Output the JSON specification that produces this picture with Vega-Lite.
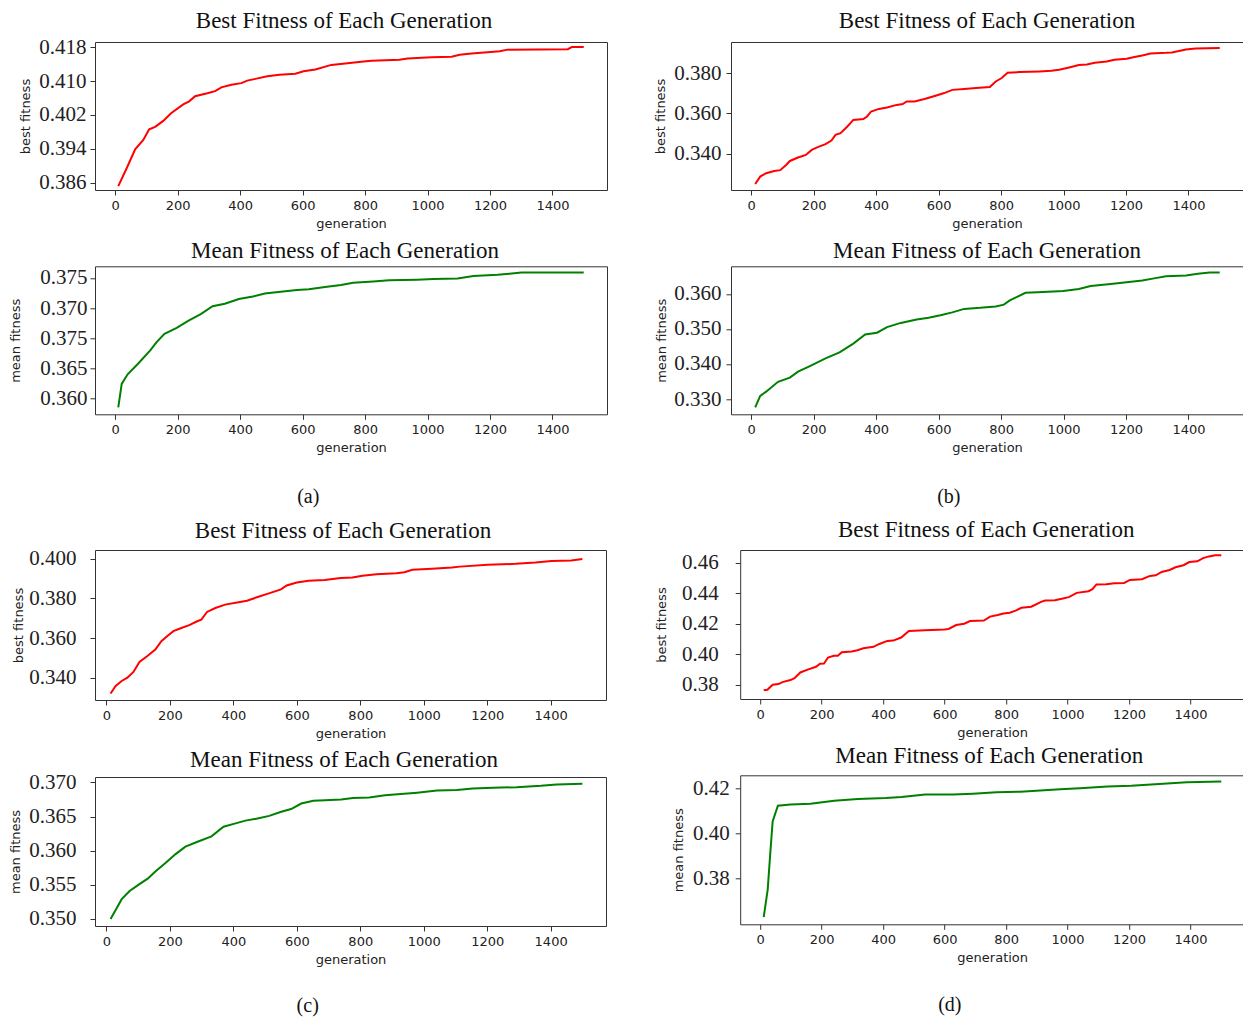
{
  "$schema": "https://vega.github.io/schema/vega-lite/v6.json",
  "background": "white",
  "padding": {"left": 8, "top": 9, "right": 0, "bottom": 0},
  "config": {
    "view": {"stroke": "#333", "strokeWidth": 1},
    "title": {"font": "Liberation Serif", "fontSize": 23, "fontWeight": "normal", "color": "#111", "anchor": "middle", "frame": "group", "baseline": "alphabetic"},
    "axis": {"grid": false, "domain": false, "tickColor": "#333", "tickSize": 5, "tickWidth": 1, "labelColor": "#222", "titleColor": "#222", "titleFont": "DejaVu Sans", "titleFontSize": 13, "titleFontWeight": "normal", "labelFlush": false, "labelOverlap": false},
    "axisX": {"labelFont": "DejaVu Sans", "labelFontSize": 13, "labelPadding": 4, "titlePadding": 5, "format": "d"},
    "axisY": {"labelFont": "Liberation Serif", "labelFontSize": 21, "titlePadding": 3}
  },
  "datasets": {
    "aBest": [
      {"gen": 10, "fitness": 0.3852}, {"gen": 38, "fitness": 0.3896}, {"gen": 64, "fitness": 0.3939}, {"gen": 90, "fitness": 0.3961}, {"gen": 109, "fitness": 0.3986}, {"gen": 128, "fitness": 0.3992}, {"gen": 154, "fitness": 0.4006}, {"gen": 179, "fitness": 0.4024}, {"gen": 218, "fitness": 0.4045}, {"gen": 237, "fitness": 0.4052}, {"gen": 256, "fitness": 0.4064}, {"gen": 295, "fitness": 0.4071}, {"gen": 320, "fitness": 0.4076}, {"gen": 340, "fitness": 0.4085}, {"gen": 372, "fitness": 0.4091}, {"gen": 404, "fitness": 0.4095}, {"gen": 423, "fitness": 0.4101}, {"gen": 449, "fitness": 0.4105}, {"gen": 487, "fitness": 0.4111}, {"gen": 526, "fitness": 0.4115}, {"gen": 577, "fitness": 0.4117}, {"gen": 603, "fitness": 0.4123}, {"gen": 641, "fitness": 0.4127}, {"gen": 692, "fitness": 0.4138}, {"gen": 744, "fitness": 0.4142}, {"gen": 795, "fitness": 0.4146}, {"gen": 821, "fitness": 0.4148}, {"gen": 910, "fitness": 0.415}, {"gen": 936, "fitness": 0.4153}, {"gen": 1013, "fitness": 0.4156}, {"gen": 1077, "fitness": 0.4157}, {"gen": 1103, "fitness": 0.4162}, {"gen": 1141, "fitness": 0.4165}, {"gen": 1192, "fitness": 0.4168}, {"gen": 1231, "fitness": 0.417}, {"gen": 1256, "fitness": 0.4174}, {"gen": 1449, "fitness": 0.4175}, {"gen": 1462, "fitness": 0.418}, {"gen": 1500, "fitness": 0.418}
    ],
    "aMean": [
      {"gen": 10, "fitness": 0.3585}, {"gen": 21, "fitness": 0.3624}, {"gen": 40, "fitness": 0.364}, {"gen": 74, "fitness": 0.3658}, {"gen": 113, "fitness": 0.368}, {"gen": 132, "fitness": 0.3693}, {"gen": 158, "fitness": 0.3707}, {"gen": 197, "fitness": 0.3717}, {"gen": 235, "fitness": 0.3729}, {"gen": 274, "fitness": 0.374}, {"gen": 312, "fitness": 0.3753}, {"gen": 351, "fitness": 0.3757}, {"gen": 396, "fitness": 0.3765}, {"gen": 441, "fitness": 0.3769}, {"gen": 479, "fitness": 0.3774}, {"gen": 530, "fitness": 0.3777}, {"gen": 582, "fitness": 0.378}, {"gen": 620, "fitness": 0.3781}, {"gen": 672, "fitness": 0.3785}, {"gen": 723, "fitness": 0.3788}, {"gen": 762, "fitness": 0.3792}, {"gen": 826, "fitness": 0.3794}, {"gen": 877, "fitness": 0.3796}, {"gen": 967, "fitness": 0.3797}, {"gen": 1019, "fitness": 0.3798}, {"gen": 1096, "fitness": 0.3799}, {"gen": 1147, "fitness": 0.3803}, {"gen": 1224, "fitness": 0.3805}, {"gen": 1262, "fitness": 0.3807}, {"gen": 1301, "fitness": 0.3809}, {"gen": 1500, "fitness": 0.3809}
    ],
    "bBest": [
      {"gen": 13, "fitness": 0.3248}, {"gen": 29, "fitness": 0.3285}, {"gen": 48, "fitness": 0.3302}, {"gen": 74, "fitness": 0.3313}, {"gen": 93, "fitness": 0.3317}, {"gen": 112, "fitness": 0.3343}, {"gen": 124, "fitness": 0.3363}, {"gen": 150, "fitness": 0.338}, {"gen": 175, "fitness": 0.3393}, {"gen": 194, "fitness": 0.3418}, {"gen": 213, "fitness": 0.3432}, {"gen": 238, "fitness": 0.3447}, {"gen": 257, "fitness": 0.3465}, {"gen": 270, "fitness": 0.3493}, {"gen": 286, "fitness": 0.3502}, {"gen": 308, "fitness": 0.3535}, {"gen": 327, "fitness": 0.3568}, {"gen": 359, "fitness": 0.3572}, {"gen": 371, "fitness": 0.3585}, {"gen": 384, "fitness": 0.361}, {"gen": 409, "fitness": 0.3623}, {"gen": 435, "fitness": 0.363}, {"gen": 466, "fitness": 0.3643}, {"gen": 485, "fitness": 0.3647}, {"gen": 498, "fitness": 0.366}, {"gen": 523, "fitness": 0.366}, {"gen": 555, "fitness": 0.3672}, {"gen": 593, "fitness": 0.369}, {"gen": 618, "fitness": 0.3702}, {"gen": 644, "fitness": 0.3718}, {"gen": 682, "fitness": 0.3722}, {"gen": 720, "fitness": 0.3727}, {"gen": 764, "fitness": 0.3732}, {"gen": 783, "fitness": 0.376}, {"gen": 802, "fitness": 0.3777}, {"gen": 821, "fitness": 0.3803}, {"gen": 859, "fitness": 0.3807}, {"gen": 923, "fitness": 0.381}, {"gen": 961, "fitness": 0.3813}, {"gen": 986, "fitness": 0.3818}, {"gen": 1018, "fitness": 0.383}, {"gen": 1049, "fitness": 0.3842}, {"gen": 1075, "fitness": 0.3845}, {"gen": 1100, "fitness": 0.3853}, {"gen": 1138, "fitness": 0.386}, {"gen": 1163, "fitness": 0.3868}, {"gen": 1202, "fitness": 0.3873}, {"gen": 1227, "fitness": 0.3882}, {"gen": 1252, "fitness": 0.389}, {"gen": 1278, "fitness": 0.39}, {"gen": 1328, "fitness": 0.3903}, {"gen": 1347, "fitness": 0.3905}, {"gen": 1392, "fitness": 0.392}, {"gen": 1423, "fitness": 0.3925}, {"gen": 1500, "fitness": 0.3927}
    ],
    "bMean": [
      {"gen": 13, "fitness": 0.3276}, {"gen": 29, "fitness": 0.3309}, {"gen": 48, "fitness": 0.3321}, {"gen": 86, "fitness": 0.3349}, {"gen": 124, "fitness": 0.3361}, {"gen": 150, "fitness": 0.3378}, {"gen": 188, "fitness": 0.3394}, {"gen": 238, "fitness": 0.3416}, {"gen": 283, "fitness": 0.3433}, {"gen": 327, "fitness": 0.3458}, {"gen": 365, "fitness": 0.3484}, {"gen": 403, "fitness": 0.3489}, {"gen": 435, "fitness": 0.3505}, {"gen": 479, "fitness": 0.3517}, {"gen": 530, "fitness": 0.3527}, {"gen": 568, "fitness": 0.3532}, {"gen": 606, "fitness": 0.3539}, {"gen": 644, "fitness": 0.3547}, {"gen": 682, "fitness": 0.3557}, {"gen": 733, "fitness": 0.356}, {"gen": 783, "fitness": 0.3564}, {"gen": 809, "fitness": 0.3569}, {"gen": 828, "fitness": 0.3581}, {"gen": 853, "fitness": 0.3592}, {"gen": 878, "fitness": 0.3603}, {"gen": 935, "fitness": 0.3605}, {"gen": 999, "fitness": 0.3608}, {"gen": 1049, "fitness": 0.3614}, {"gen": 1087, "fitness": 0.3622}, {"gen": 1151, "fitness": 0.3628}, {"gen": 1202, "fitness": 0.3633}, {"gen": 1252, "fitness": 0.3638}, {"gen": 1290, "fitness": 0.3644}, {"gen": 1328, "fitness": 0.365}, {"gen": 1392, "fitness": 0.3652}, {"gen": 1430, "fitness": 0.3657}, {"gen": 1468, "fitness": 0.3661}, {"gen": 1500, "fitness": 0.3661}
    ],
    "cBest": [
      {"gen": 13, "fitness": 0.332}, {"gen": 29, "fitness": 0.3358}, {"gen": 48, "fitness": 0.3383}, {"gen": 66, "fitness": 0.34}, {"gen": 85, "fitness": 0.3429}, {"gen": 104, "fitness": 0.3479}, {"gen": 129, "fitness": 0.3509}, {"gen": 154, "fitness": 0.3542}, {"gen": 173, "fitness": 0.3584}, {"gen": 192, "fitness": 0.361}, {"gen": 211, "fitness": 0.3635}, {"gen": 236, "fitness": 0.3651}, {"gen": 261, "fitness": 0.3665}, {"gen": 286, "fitness": 0.3685}, {"gen": 299, "fitness": 0.3693}, {"gen": 317, "fitness": 0.3732}, {"gen": 343, "fitness": 0.3752}, {"gen": 374, "fitness": 0.3769}, {"gen": 412, "fitness": 0.378}, {"gen": 443, "fitness": 0.3789}, {"gen": 474, "fitness": 0.3806}, {"gen": 512, "fitness": 0.3826}, {"gen": 550, "fitness": 0.3846}, {"gen": 568, "fitness": 0.3866}, {"gen": 600, "fitness": 0.3881}, {"gen": 637, "fitness": 0.3889}, {"gen": 688, "fitness": 0.3893}, {"gen": 738, "fitness": 0.3903}, {"gen": 775, "fitness": 0.3906}, {"gen": 807, "fitness": 0.3915}, {"gen": 851, "fitness": 0.3923}, {"gen": 914, "fitness": 0.3928}, {"gen": 939, "fitness": 0.3933}, {"gen": 964, "fitness": 0.3945}, {"gen": 1026, "fitness": 0.395}, {"gen": 1089, "fitness": 0.3956}, {"gen": 1114, "fitness": 0.3961}, {"gen": 1202, "fitness": 0.397}, {"gen": 1290, "fitness": 0.3975}, {"gen": 1352, "fitness": 0.3982}, {"gen": 1403, "fitness": 0.399}, {"gen": 1465, "fitness": 0.3992}, {"gen": 1500, "fitness": 0.4}
    ],
    "cMean": [
      {"gen": 13, "fitness": 0.35}, {"gen": 29, "fitness": 0.3513}, {"gen": 48, "fitness": 0.3529}, {"gen": 73, "fitness": 0.3541}, {"gen": 104, "fitness": 0.3551}, {"gen": 130, "fitness": 0.3559}, {"gen": 155, "fitness": 0.357}, {"gen": 186, "fitness": 0.3582}, {"gen": 218, "fitness": 0.3595}, {"gen": 249, "fitness": 0.3606}, {"gen": 287, "fitness": 0.3613}, {"gen": 331, "fitness": 0.3621}, {"gen": 369, "fitness": 0.3635}, {"gen": 407, "fitness": 0.364}, {"gen": 438, "fitness": 0.3644}, {"gen": 476, "fitness": 0.3647}, {"gen": 513, "fitness": 0.3651}, {"gen": 551, "fitness": 0.3657}, {"gen": 582, "fitness": 0.3661}, {"gen": 614, "fitness": 0.3669}, {"gen": 652, "fitness": 0.3673}, {"gen": 689, "fitness": 0.3674}, {"gen": 740, "fitness": 0.3675}, {"gen": 777, "fitness": 0.3677}, {"gen": 828, "fitness": 0.3678}, {"gen": 878, "fitness": 0.3681}, {"gen": 928, "fitness": 0.3683}, {"gen": 979, "fitness": 0.3685}, {"gen": 1042, "fitness": 0.3688}, {"gen": 1104, "fitness": 0.3689}, {"gen": 1155, "fitness": 0.3691}, {"gen": 1218, "fitness": 0.3692}, {"gen": 1293, "fitness": 0.3693}, {"gen": 1369, "fitness": 0.3695}, {"gen": 1419, "fitness": 0.3697}, {"gen": 1500, "fitness": 0.3698}
    ],
    "dBest": [
      {"gen": 12, "fitness": 0.3763}, {"gen": 24, "fitness": 0.3767}, {"gen": 41, "fitness": 0.38}, {"gen": 60, "fitness": 0.3804}, {"gen": 73, "fitness": 0.3817}, {"gen": 99, "fitness": 0.383}, {"gen": 112, "fitness": 0.3843}, {"gen": 131, "fitness": 0.388}, {"gen": 157, "fitness": 0.39}, {"gen": 182, "fitness": 0.3917}, {"gen": 195, "fitness": 0.3937}, {"gen": 208, "fitness": 0.3939}, {"gen": 221, "fitness": 0.3978}, {"gen": 240, "fitness": 0.3989}, {"gen": 253, "fitness": 0.3989}, {"gen": 266, "fitness": 0.4013}, {"gen": 298, "fitness": 0.4017}, {"gen": 317, "fitness": 0.4026}, {"gen": 336, "fitness": 0.4039}, {"gen": 369, "fitness": 0.4048}, {"gen": 388, "fitness": 0.4067}, {"gen": 414, "fitness": 0.4087}, {"gen": 433, "fitness": 0.4089}, {"gen": 459, "fitness": 0.4109}, {"gen": 484, "fitness": 0.4152}, {"gen": 536, "fitness": 0.4157}, {"gen": 600, "fitness": 0.4161}, {"gen": 613, "fitness": 0.4165}, {"gen": 638, "fitness": 0.4191}, {"gen": 664, "fitness": 0.42}, {"gen": 683, "fitness": 0.4217}, {"gen": 728, "fitness": 0.422}, {"gen": 748, "fitness": 0.4246}, {"gen": 773, "fitness": 0.4257}, {"gen": 792, "fitness": 0.4267}, {"gen": 812, "fitness": 0.4272}, {"gen": 831, "fitness": 0.4285}, {"gen": 850, "fitness": 0.4304}, {"gen": 882, "fitness": 0.4311}, {"gen": 914, "fitness": 0.4343}, {"gen": 927, "fitness": 0.4352}, {"gen": 959, "fitness": 0.4354}, {"gen": 985, "fitness": 0.4365}, {"gen": 1004, "fitness": 0.4374}, {"gen": 1030, "fitness": 0.4402}, {"gen": 1068, "fitness": 0.4413}, {"gen": 1081, "fitness": 0.4426}, {"gen": 1094, "fitness": 0.4457}, {"gen": 1126, "fitness": 0.4459}, {"gen": 1152, "fitness": 0.4465}, {"gen": 1184, "fitness": 0.4467}, {"gen": 1203, "fitness": 0.4487}, {"gen": 1242, "fitness": 0.4491}, {"gen": 1268, "fitness": 0.4513}, {"gen": 1287, "fitness": 0.4517}, {"gen": 1306, "fitness": 0.4539}, {"gen": 1332, "fitness": 0.4552}, {"gen": 1351, "fitness": 0.457}, {"gen": 1377, "fitness": 0.4583}, {"gen": 1396, "fitness": 0.4604}, {"gen": 1422, "fitness": 0.4609}, {"gen": 1441, "fitness": 0.463}, {"gen": 1460, "fitness": 0.4641}, {"gen": 1480, "fitness": 0.4648}, {"gen": 1500, "fitness": 0.4648}
    ],
    "dMean": [
      {"gen": 12, "fitness": 0.3631}, {"gen": 25, "fitness": 0.3753}, {"gen": 32, "fitness": 0.3888}, {"gen": 41, "fitness": 0.4053}, {"gen": 58, "fitness": 0.4122}, {"gen": 99, "fitness": 0.4127}, {"gen": 164, "fitness": 0.4131}, {"gen": 241, "fitness": 0.4144}, {"gen": 318, "fitness": 0.4152}, {"gen": 409, "fitness": 0.4156}, {"gen": 460, "fitness": 0.416}, {"gen": 537, "fitness": 0.4171}, {"gen": 628, "fitness": 0.4171}, {"gen": 692, "fitness": 0.4175}, {"gen": 769, "fitness": 0.4181}, {"gen": 847, "fitness": 0.4184}, {"gen": 924, "fitness": 0.419}, {"gen": 976, "fitness": 0.4194}, {"gen": 1040, "fitness": 0.4199}, {"gen": 1130, "fitness": 0.4207}, {"gen": 1207, "fitness": 0.421}, {"gen": 1298, "fitness": 0.4218}, {"gen": 1388, "fitness": 0.4225}, {"gen": 1500, "fitness": 0.4229}
    ]
  },
  "columns": 1,
  "align": "none",
  "spacing": 11,
  "concat": [
    {
      "spacing": 46,
      "hconcat": [
        {
          "spacing": 8.3,
          "title": {"text": "(a)", "orient": "bottom", "anchor": "middle", "frame": "bounds", "font": "Liberation Serif", "fontSize": 20, "fontWeight": "normal", "baseline": "middle", "offset": 41.7, "color": "#111"},
          "vconcat": [
            {
              "width": 512, "height": 148,
              "title": {"text": "Best Fitness of Each Generation", "offset": 3.4, "dx": -7},
              "data": {"name": "aBest"},
              "mark": {"type": "line", "color": "#ff0000", "strokeWidth": 2},
              "encoding": {
                "x": {"field": "gen", "type": "quantitative", "scale": {"domain": [-64.5, 1574.5], "nice": false, "zero": false}, "axis": {"title": "generation", "values": [0, 200, 400, 600, 800, 1000, 1200, 1400]}},
                "y": {"field": "fitness", "type": "quantitative", "scale": {"domain": [0.3843, 0.4192], "nice": false, "zero": false}, "axis": {"title": "best fitness", "values": [0.386, 0.394, 0.402, 0.41, 0.418], "format": ".3f", "labelPadding": 4, "minExtent": 59.4, "maxExtent": 59.4}}
              }
            },
            {
              "width": 512, "height": 148,
              "title": {"text": "Mean Fitness of Each Generation", "offset": 3.4, "dx": -6},
              "data": {"name": "aMean"},
              "mark": {"type": "line", "color": "#008000", "strokeWidth": 2},
              "encoding": {
                "x": {"field": "gen", "type": "quantitative", "scale": {"domain": [-64.5, 1574.5], "nice": false, "zero": false}, "axis": {"title": "generation", "values": [0, 200, 400, 600, 800, 1000, 1200, 1400]}},
                "y": {"field": "fitness", "type": "quantitative", "scale": {"domain": [0.35736, 0.38192], "nice": false, "zero": false}, "axis": {"title": "mean fitness", "values": [0.36, 0.365, 0.37, 0.375, 0.38], "labelExpr": "datum.value > 0.3775 ? '0.375' : datum.value > 0.3725 ? '0.370' : datum.value > 0.3675 ? '0.375' : datum.value > 0.3625 ? '0.365' : '0.360'", "labelPadding": 3, "minExtent": 69.4, "maxExtent": 69.4}}
              }
            }
          ]
        },
        {
          "spacing": 8.3,
          "title": {"text": "(b)", "orient": "bottom", "anchor": "middle", "frame": "bounds", "font": "Liberation Serif", "fontSize": 20, "fontWeight": "normal", "baseline": "middle", "offset": 41.7, "color": "#111"},
          "vconcat": [
            {
              "width": 512, "height": 148,
              "title": {"text": "Best Fitness of Each Generation", "offset": 8.8, "dx": 0},
              "data": {"name": "bBest"},
              "mark": {"type": "line", "color": "#ff0000", "strokeWidth": 2},
              "encoding": {
                "x": {"field": "gen", "type": "quantitative", "scale": {"domain": [-64.5, 1574.5], "nice": false, "zero": false}, "axis": {"title": "generation", "values": [0, 200, 400, 600, 800, 1000, 1200, 1400]}},
                "y": {"field": "fitness", "type": "quantitative", "scale": {"domain": [0.3218, 0.3957], "nice": false, "zero": false}, "axis": {"title": "best fitness", "values": [0.34, 0.36, 0.38], "format": ".3f", "labelPadding": 5, "minExtent": 60.4, "maxExtent": 60.4}}
              }
            },
            {
              "width": 512, "height": 148,
              "title": {"text": "Mean Fitness of Each Generation", "offset": 3.4, "dx": 0},
              "data": {"name": "bMean"},
              "mark": {"type": "line", "color": "#008000", "strokeWidth": 2},
              "encoding": {
                "x": {"field": "gen", "type": "quantitative", "scale": {"domain": [-64.5, 1574.5], "nice": false, "zero": false}, "axis": {"title": "generation", "values": [0, 200, 400, 600, 800, 1000, 1200, 1400]}},
                "y": {"field": "fitness", "type": "quantitative", "scale": {"domain": [0.32565, 0.36784], "nice": false, "zero": false}, "axis": {"title": "mean fitness", "values": [0.33, 0.34, 0.35, 0.36], "format": ".3f", "labelPadding": 5, "minExtent": 59.8, "maxExtent": 59.8}}
              }
            }
          ]
        }
      ]
    },
    {
      "spacing": 47.2,
      "hconcat": [
        {
          "spacing": 7,
          "title": {"text": "(c)", "orient": "bottom", "anchor": "middle", "frame": "bounds", "font": "Liberation Serif", "fontSize": 20, "fontWeight": "normal", "baseline": "middle", "offset": 39.7, "color": "#111"},
          "vconcat": [
            {
              "width": 511, "height": 150,
              "title": {"text": "Best Fitness of Each Generation", "offset": 4.8, "dx": -7.5},
              "data": {"name": "cBest"},
              "mark": {"type": "line", "color": "#ff0000", "strokeWidth": 2},
              "encoding": {
                "x": {"field": "gen", "type": "quantitative", "scale": {"domain": [-36.1, 1574.5], "nice": false, "zero": false}, "axis": {"title": "generation", "values": [0, 200, 400, 600, 800, 1000, 1200, 1400]}},
                "y": {"field": "fitness", "type": "quantitative", "scale": {"domain": [0.3287, 0.4045], "nice": false, "zero": false}, "axis": {"title": "best fitness", "values": [0.34, 0.36, 0.38, 0.4], "format": ".3f", "labelPadding": 14, "minExtent": 66.4, "maxExtent": 66.4}}
              }
            },
            {
              "width": 511, "height": 149,
              "title": {"text": "Mean Fitness of Each Generation", "offset": -0.5, "dx": -6.5},
              "data": {"name": "cMean"},
              "mark": {"type": "line", "color": "#008000", "strokeWidth": 2},
              "encoding": {
                "x": {"field": "gen", "type": "quantitative", "scale": {"domain": [-36.1, 1574.5], "nice": false, "zero": false}, "axis": {"title": "generation", "values": [0, 200, 400, 600, 800, 1000, 1200, 1400]}},
                "y": {"field": "fitness", "type": "quantitative", "scale": {"domain": [0.34897, 0.37079], "nice": false, "zero": false}, "axis": {"title": "mean fitness", "values": [0.35, 0.355, 0.36, 0.365, 0.37], "format": ".3f", "labelPadding": 14, "minExtent": 69.6, "maxExtent": 69.6}}
              }
            }
          ]
        },
        {
          "spacing": 4.3,
          "title": {"text": "(d)", "orient": "bottom", "anchor": "middle", "frame": "bounds", "font": "Liberation Serif", "fontSize": 20, "fontWeight": "normal", "baseline": "middle", "offset": 39.7, "color": "#111"},
          "vconcat": [
            {
              "width": 504, "height": 149,
              "title": {"text": "Best Fitness of Each Generation", "offset": 7.9, "dx": -6},
              "data": {"name": "dBest"},
              "mark": {"type": "line", "color": "#ff0000", "strokeWidth": 2},
              "encoding": {
                "x": {"field": "gen", "type": "quantitative", "scale": {"domain": [-64.5, 1574.5], "nice": false, "zero": false}, "axis": {"title": "generation", "values": [0, 200, 400, 600, 800, 1000, 1200, 1400]}},
                "y": {"field": "fitness", "type": "quantitative", "scale": {"domain": [0.3706, 0.4683], "nice": false, "zero": false}, "axis": {"title": "best fitness", "values": [0.38, 0.4, 0.42, 0.44, 0.46], "format": ".2f", "labelPadding": 17, "minExtent": 68.7, "maxExtent": 68.7}}
              }
            },
            {
              "width": 504, "height": 149,
              "title": {"text": "Mean Fitness of Each Generation", "offset": 7, "dx": -3},
              "data": {"name": "dMean"},
              "mark": {"type": "line", "color": "#008000", "strokeWidth": 2},
              "encoding": {
                "x": {"field": "gen", "type": "quantitative", "scale": {"domain": [-64.5, 1574.5], "nice": false, "zero": false}, "axis": {"title": "generation", "values": [0, 200, 400, 600, 800, 1000, 1200, 1400]}},
                "y": {"field": "fitness", "type": "quantitative", "scale": {"domain": [0.3599, 0.4256], "nice": false, "zero": false}, "axis": {"title": "mean fitness", "values": [0.38, 0.4, 0.42], "format": ".2f", "labelPadding": 6, "minExtent": 52.2, "maxExtent": 52.2}}
              }
            }
          ]
        }
      ]
    }
  ]
}
